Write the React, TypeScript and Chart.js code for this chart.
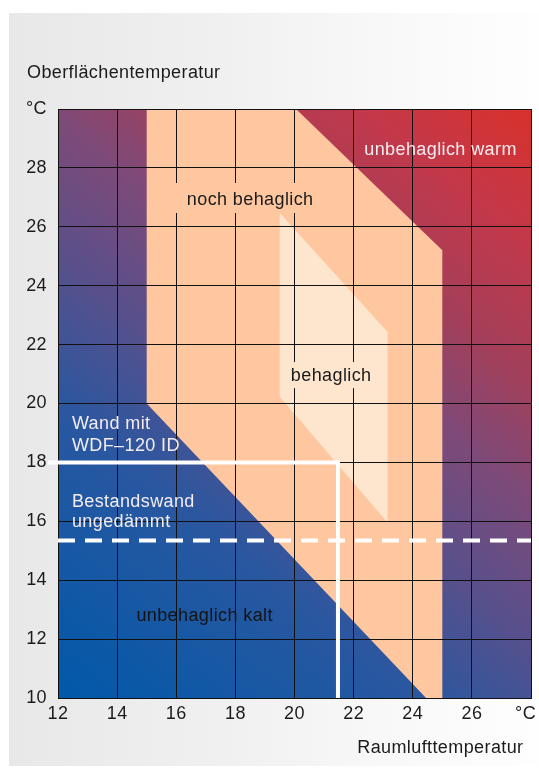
import React, { useEffect, useRef } from 'react';
import { Chart, registerables } from 'chart.js';

Chart.register(...registerables);

// ---- data (°C) ----
const xMin = 12;
const xMax = 28;
const yMin = 10;
const yMax = 30;
const tickStep = 2;
const unitLabel = '°C';

const xTitle = 'Raumlufttemperatur';
const yTitle = 'Oberflächentemperatur';

// "noch behaglich" zone (room temp x, surface temp y)
const nochBehaglichZone = [
  { x: 15.0, y: 30 },
  { x: 20.05, y: 30 },
  { x: 25.0, y: 25.2 },
  { x: 25.0, y: 10 },
  { x: 24.45, y: 10 },
  { x: 15.0, y: 20.0 },
];

// "behaglich" zone
const behaglichZone = [
  { x: 19.5, y: 26.47 },
  { x: 23.15, y: 22.43 },
  { x: 23.15, y: 15.95 },
  { x: 19.5, y: 20.23 },
];

// Wand mit WDF-120 ID: 18 °C surface at 21.5 °C room temperature
const wandMitWdf = [
  { x: 11.66, y: 18 },
  { x: 21.47, y: 18 },
  { x: 21.47, y: 10 },
];

// Bestandswand ungedämmt: ~15.35 °C surface temperature
const bestandswand = [
  { x: 12, y: 15.35 },
  { x: 28, y: 15.35 },
];

// zone / line labels: text, anchor (data units), alignment
const zoneLabels = [
  { text: 'unbehaglich warm', x: 24.94, y: 28.44, align: 'center', kind: 'light' },
  { text: 'noch behaglich', x: 18.5, y: 26.74, align: 'center', kind: 'peach' },
  { text: 'behaglich', x: 21.24, y: 20.76, align: 'center', kind: 'pale' },
  { text: 'Wand mit', x: 12.47, y: 19.14, align: 'left', kind: 'light' },
  { text: 'WDF–120 ID', x: 12.47, y: 18.39, align: 'left', kind: 'light' },
  { text: 'Bestandswand', x: 12.47, y: 16.5, align: 'left', kind: 'light' },
  { text: 'ungedämmt', x: 12.47, y: 15.81, align: 'left', kind: 'light' },
  { text: 'unbehaglich kalt', x: 16.96, y: 12.63, align: 'center', kind: 'dark' },
];

// ---- styles ----
const FONT_FAMILY = "'Liberation Sans', Arial, Helvetica, sans-serif";
const FONT_SIZE = 18;
const TEXT_DARK = '#1b1b1b';
const PEACH = '#fec79f';
const PALE = '#fee5cd';
const GRID = '#111111';
const gradientStops: [number, string][] = [
  [0, '#0059a9'],
  [0.3, '#2a57a0'],
  [0.45, '#57508c'],
  [0.6, '#7e4a78'],
  [0.72, '#a33f5a'],
  [0.86, '#c3384a'],
  [1, '#d8312b'],
];
const labelStyles: Record<string, { color: string; knockout?: string; pad?: [number, number, number] }> = {
  light: { color: '#f4ecf0' },
  dark: { color: '#141414' },
  peach: { color: TEXT_DARK, knockout: PEACH, pad: [12, 22, 8] },
  pale: { color: TEXT_DARK, knockout: PALE, pad: [10, 19, 7] },
};

const regionsPlugin = {
  id: 'regions',
  beforeDraw(chart: any) {
    const { ctx, chartArea: a, scales } = chart;
    const xs = scales.x;
    const ys = scales.y;
    ctx.letterSpacing = '0.4px';
    ctx.save();
    ctx.beginPath();
    ctx.rect(a.left, a.top, a.right - a.left, a.bottom - a.top);
    ctx.clip();
    const g = ctx.createLinearGradient(a.left, a.bottom, a.right, a.top);
    gradientStops.forEach(([o, c]) => g.addColorStop(o, c));
    ctx.fillStyle = g;
    ctx.fillRect(a.left, a.top, a.right - a.left, a.bottom - a.top);
    const poly = (pts: { x: number; y: number }[], color: string) => {
      ctx.beginPath();
      pts.forEach((p, i) => {
        const px = xs.getPixelForValue(p.x);
        const py = ys.getPixelForValue(p.y);
        if (i === 0) ctx.moveTo(px, py);
        else ctx.lineTo(px, py);
      });
      ctx.closePath();
      ctx.fillStyle = color;
      ctx.fill();
    };
    poly(nochBehaglichZone, PEACH);
    poly(behaglichZone, PALE);
    ctx.restore();
  },
  afterDraw(chart: any) {
    const { ctx, chartArea: a, scales } = chart;
    const xs = scales.x;
    const ys = scales.y;
    ctx.save();
    ctx.letterSpacing = '0.4px';
    ctx.font = `${FONT_SIZE}px ${FONT_FAMILY}`;
    ctx.textBaseline = 'alphabetic';
    zoneLabels.forEach((l) => {
      const st = labelStyles[l.kind];
      const px = xs.getPixelForValue(l.x);
      const py = ys.getPixelForValue(l.y);
      const w = ctx.measureText(l.text).width;
      const left = l.align === 'center' ? px - w / 2 : px;
      if (st.knockout && st.pad) {
        const [ph, pt, pb] = st.pad;
        ctx.fillStyle = st.knockout;
        ctx.fillRect(left - ph, py - pt, w + 2 * ph, pt + pb);
      }
      ctx.fillStyle = st.color;
      ctx.textAlign = 'left';
      ctx.fillText(l.text, left, py);
    });
    // axis titles
    ctx.fillStyle = TEXT_DARK;
    ctx.textAlign = 'left';
    ctx.fillText(yTitle, a.left - 31, a.top - 31);
    ctx.textAlign = 'right';
    ctx.fillText(xTitle, a.right - 7.5, a.bottom + 55);
    ctx.restore();
  },
};

export default function App() {
  const ref = useRef<HTMLCanvasElement | null>(null);

  useEffect(() => {
    if (!ref.current) return;
    const tickFont = { family: FONT_FAMILY, size: FONT_SIZE };
    const chart = new Chart(ref.current, {
      type: 'line',
      data: {
        datasets: [
          {
            label: 'Wand mit WDF–120 ID',
            data: wandMitWdf,
            borderColor: '#ffffff',
            borderWidth: 4,
            pointRadius: 0,
            tension: 0,
            fill: false,
            clip: false as any,
          },
          {
            label: 'Bestandswand ungedämmt',
            data: bestandswand,
            borderColor: '#ffffff',
            borderWidth: 4,
            borderDash: [17, 10],
            pointRadius: 0,
            tension: 0,
            fill: false,
            clip: false as any,
          },
        ],
      },
      options: {
        animation: false,
        responsive: false,
        maintainAspectRatio: false,
        events: [],
        layout: { padding: { top: 109, right: 8, left: 0, bottom: 0 } },
        plugins: { legend: { display: false }, tooltip: { enabled: false }, title: { display: false } },
        scales: {
          x: {
            type: 'linear',
            min: xMin,
            max: xMax,
            ticks: {
              stepSize: tickStep,
              autoSkip: false,
              maxRotation: 0,
              font: tickFont,
              color: TEXT_DARK,
              padding: 5,
              callback: (v: any) => (v === xMax ? unitLabel + '  ' : String(v)),
            },
            grid: { color: GRID, lineWidth: 1, drawTicks: false },
            border: { color: GRID, width: 1 },
            afterFit: (s: any) => {
              s.height = 74;
              s.paddingLeft = 0;
              s.paddingRight = 0;
            },
          },
          y: {
            type: 'linear',
            min: yMin,
            max: yMax,
            ticks: {
              stepSize: tickStep,
              autoSkip: false,
              font: tickFont,
              color: TEXT_DARK,
              padding: 11,
              callback: (v: any) => (v === yMax ? unitLabel : String(v)),
            },
            grid: { color: GRID, lineWidth: 1, drawTicks: false },
            border: { color: GRID, width: 1 },
            afterFit: (s: any) => {
              s.width = 58;
              s.paddingTop = 0;
              s.paddingBottom = 0;
            },
          },
        },
      } as any,
      plugins: [regionsPlugin],
    });
    return () => chart.destroy();
  }, []);

  return (
    <div style={{ position: 'absolute', left: 0, top: 0, width: 539, height: 772, background: '#ffffff' }}>
      <div
        style={{
          position: 'absolute',
          left: 9,
          top: 13,
          width: 530,
          height: 753,
          background: 'linear-gradient(to right, #e8e8e8 0%, #f0f0f0 40%, #f8f8f8 70%, #fefefe 100%)',
        }}
      />
      <canvas ref={ref} width={539} height={772} style={{ position: 'absolute', left: 0, top: 0, width: 539, height: 772 }} />
    </div>
  );
}
